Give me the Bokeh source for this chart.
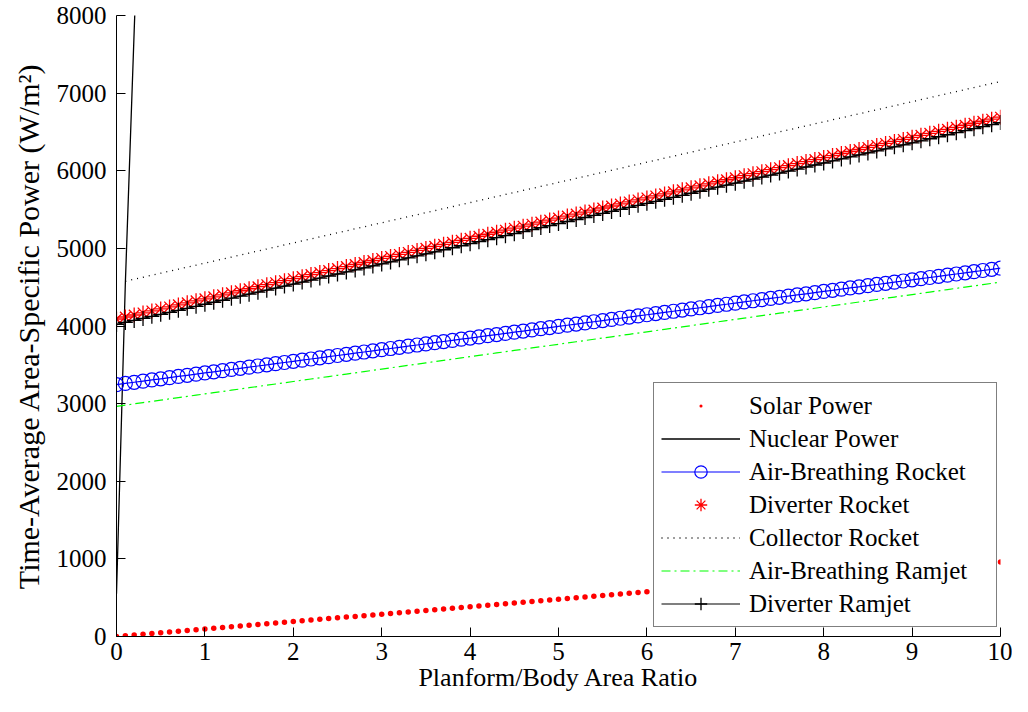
from bokeh.plotting import figure
from bokeh.models import Range1d, Legend, LegendItem, FixedTicker
from bokeh.embed import file_html
from bokeh.resources import INLINE

# Planform/Body area ratio samples
ratio = [0.0, 0.1, 0.2, 0.3, 0.4, 0.5, 0.6, 0.7, 0.8, 0.9,
         1.0, 1.1, 1.2, 1.3, 1.4, 1.5, 1.6, 1.7, 1.8, 1.9,
         2.0, 2.1, 2.2, 2.3, 2.4, 2.5, 2.6, 2.7, 2.8, 2.9,
         3.0, 3.1, 3.2, 3.3, 3.4, 3.5, 3.6, 3.7, 3.8, 3.9,
         4.0, 4.1, 4.2, 4.3, 4.4, 4.5, 4.6, 4.7, 4.8, 4.9,
         5.0, 5.1, 5.2, 5.3, 5.4, 5.5, 5.6, 5.7, 5.8, 5.9,
         6.0, 6.1, 6.2, 6.3, 6.4, 6.5, 6.6, 6.7, 6.8, 6.9,
         7.0, 7.1, 7.2, 7.3, 7.4, 7.5, 7.6, 7.7, 7.8, 7.9,
         8.0, 8.1, 8.2, 8.3, 8.4, 8.5, 8.6, 8.7, 8.8, 8.9,
         9.0, 9.1, 9.2, 9.3, 9.4, 9.5, 9.6, 9.7, 9.8, 9.9,
         10.0]

solar_power = [0, 9.6, 19.2, 28.8, 38.4, 48, 57.6, 67.2, 76.8, 86.4,
               96, 105.6, 115.2, 124.8, 134.4, 144, 153.6, 163.2, 172.8, 182.4,
               192, 201.6, 211.2, 220.8, 230.4, 240, 249.6, 259.2, 268.8, 278.4,
               288, 297.6, 307.2, 316.8, 326.4, 336, 345.6, 355.2, 364.8, 374.4,
               384, 393.6, 403.2, 412.8, 422.4, 432, 441.6, 451.2, 460.8, 470.4,
               480, 489.6, 499.2, 508.8, 518.4, 528, 537.6, 547.2, 556.8, 566.4,
               576, 585.6, 595.2, 604.8, 614.4, 624, 633.6, 643.2, 652.8, 662.4,
               672, 681.6, 691.2, 700.8, 710.4, 720, 729.6, 739.2, 748.8, 758.4,
               768, 777.6, 787.2, 796.8, 806.4, 816, 825.6, 835.2, 844.8, 854.4,
               864, 873.6, 883.2, 892.8, 902.4, 912, 921.6, 931.2, 940.8, 950.4,
               960]

nuclear_ratio = [0.0, 0.1, 0.2, 0.3]
nuclear_power = [550, 4550, 7800, 11000]

air_breathing_rocket = [3245, 3260, 3275, 3290, 3305, 3320, 3335, 3350, 3365, 3380,
                        3395, 3410, 3425, 3440, 3455, 3470, 3485, 3500, 3515, 3530,
                        3545, 3560, 3575, 3590, 3605, 3620, 3635, 3650, 3665, 3680,
                        3695, 3710, 3725, 3740, 3755, 3770, 3785, 3800, 3815, 3830,
                        3845, 3860, 3875, 3890, 3905, 3920, 3935, 3950, 3965, 3980,
                        3995, 4010, 4025, 4040, 4055, 4070, 4085, 4100, 4115, 4130,
                        4145, 4160, 4175, 4190, 4205, 4220, 4235, 4250, 4265, 4280,
                        4295, 4310, 4325, 4340, 4355, 4370, 4385, 4400, 4415, 4430,
                        4445, 4460, 4475, 4490, 4505, 4520, 4535, 4550, 4565, 4580,
                        4595, 4610, 4625, 4640, 4655, 4670, 4685, 4700, 4715, 4730,
                        4745]

diverter_rocket = [4090, 4116, 4142, 4168, 4194, 4220, 4246, 4272, 4298, 4324,
                   4350, 4376, 4402, 4428, 4454, 4480, 4506, 4532, 4558, 4584,
                   4610, 4636, 4662, 4688, 4714, 4740, 4766, 4792, 4818, 4844,
                   4870, 4896, 4922, 4948, 4974, 5000, 5026, 5052, 5078, 5104,
                   5130, 5156, 5182, 5208, 5234, 5260, 5286, 5312, 5338, 5364,
                   5390, 5416, 5442, 5468, 5494, 5520, 5546, 5572, 5598, 5624,
                   5650, 5676, 5702, 5728, 5754, 5780, 5806, 5832, 5858, 5884,
                   5910, 5936, 5962, 5988, 6014, 6040, 6066, 6092, 6118, 6144,
                   6170, 6196, 6222, 6248, 6274, 6300, 6326, 6352, 6378, 6404,
                   6430, 6456, 6482, 6508, 6534, 6560, 6586, 6612, 6638, 6664,
                   6690]

collector_ratio = ratio[1:]
collector_rocket = [4576, 4602, 4628, 4654, 4680, 4706, 4732, 4758, 4784,
                    4810, 4836, 4862, 4888, 4914, 4940, 4966, 4992, 5018, 5044,
                    5070, 5096, 5122, 5148, 5174, 5200, 5226, 5252, 5278, 5304,
                    5330, 5356, 5382, 5408, 5434, 5460, 5486, 5512, 5538, 5564,
                    5590, 5616, 5642, 5668, 5694, 5720, 5746, 5772, 5798, 5824,
                    5850, 5876, 5902, 5928, 5954, 5980, 6006, 6032, 6058, 6084,
                    6110, 6136, 6162, 6188, 6214, 6240, 6266, 6292, 6318, 6344,
                    6370, 6396, 6422, 6448, 6474, 6500, 6526, 6552, 6578, 6604,
                    6630, 6656, 6682, 6708, 6734, 6760, 6786, 6812, 6838, 6864,
                    6890, 6916, 6942, 6968, 6994, 7020, 7046, 7072, 7098, 7124,
                    7150]

air_breathing_ramjet = [2965, 2981, 2997, 3013, 3029, 3045, 3061, 3077, 3093, 3109,
                        3125, 3141, 3157, 3173, 3189, 3205, 3221, 3237, 3253, 3269,
                        3285, 3301, 3317, 3333, 3349, 3365, 3381, 3397, 3413, 3429,
                        3445, 3461, 3477, 3493, 3509, 3525, 3541, 3557, 3573, 3589,
                        3605, 3621, 3637, 3653, 3669, 3685, 3701, 3717, 3733, 3749,
                        3765, 3781, 3797, 3813, 3829, 3845, 3861, 3877, 3893, 3909,
                        3925, 3941, 3957, 3973, 3989, 4005, 4021, 4037, 4053, 4069,
                        4085, 4101, 4117, 4133, 4149, 4165, 4181, 4197, 4213, 4229,
                        4245, 4261, 4277, 4293, 4309, 4325, 4341, 4357, 4373, 4389,
                        4405, 4421, 4437, 4453, 4469, 4485, 4501, 4517, 4533, 4549,
                        4565]

diverter_ramjet = [4020, 4046, 4072, 4098, 4124, 4150, 4176, 4202, 4228, 4254,
                   4280, 4306, 4332, 4358, 4384, 4410, 4436, 4462, 4488, 4514,
                   4540, 4566, 4592, 4618, 4644, 4670, 4696, 4722, 4748, 4774,
                   4800, 4826, 4852, 4878, 4904, 4930, 4956, 4982, 5008, 5034,
                   5060, 5086, 5112, 5138, 5164, 5190, 5216, 5242, 5268, 5294,
                   5320, 5346, 5372, 5398, 5424, 5450, 5476, 5502, 5528, 5554,
                   5580, 5606, 5632, 5658, 5684, 5710, 5736, 5762, 5788, 5814,
                   5840, 5866, 5892, 5918, 5944, 5970, 5996, 6022, 6048, 6074,
                   6100, 6126, 6152, 6178, 6204, 6230, 6256, 6282, 6308, 6334,
                   6360, 6386, 6412, 6438, 6464, 6490, 6516, 6542, 6568, 6594,
                   6620]

x_ticks = [0, 1, 2, 3, 4, 5, 6, 7, 8, 9, 10]
y_ticks = [0, 1000, 2000, 3000, 4000, 5000, 6000, 7000, 8000]

FONT = "Liberation Serif"

p = figure(width=1012, height=696, output_backend="svg", toolbar_location=None,
           x_range=Range1d(0, 10), y_range=Range1d(0, 8000),
           min_border_left=116, min_border_right=12, min_border_top=15,
           min_border_bottom=60)
p.grid.visible = False
p.outline_line_color = None
p.background_fill_color = "white"
p.border_fill_color = "white"

for ax, ticks in ((p.xaxis[0], x_ticks), (p.yaxis[0], y_ticks)):
    ax.ticker = FixedTicker(ticks=ticks)
    ax.minor_tick_line_color = None
    ax.major_tick_in = 9
    ax.major_tick_out = 0
    ax.axis_line_color = "black"
    ax.major_tick_line_color = "black"
    ax.major_label_text_font = FONT
    ax.major_label_text_font_size = "25px"
    ax.major_label_text_color = "black"
    ax.axis_label_text_font = FONT
    ax.axis_label_text_font_style = "normal"
    ax.axis_label_text_color = "black"

p.xaxis[0].axis_label = "Planform/Body Area Ratio"
p.xaxis[0].axis_label_text_font_size = "26px"
p.xaxis[0].major_label_standoff = 6
p.xaxis[0].axis_label_standoff = 0
p.yaxis[0].axis_label = "Time-Average Area-Specific Power (W/m\u00b2)"
p.yaxis[0].axis_label_text_font_size = "30px"
p.yaxis[0].major_label_standoff = 10
p.yaxis[0].axis_label_standoff = 9

r_solar = p.scatter(ratio, solar_power, marker="dot", size=22,
                    line_color="red", fill_color="red")
r_nuc = p.line(nuclear_ratio, nuclear_power, line_color="black", line_width=1.3)
r_abr_l = p.line(ratio, air_breathing_rocket, line_color="blue", line_width=1.2)
r_abr_m = p.scatter(ratio, air_breathing_rocket, marker="circle", size=14,
                    line_color="blue", fill_color=None, line_width=1.2)
r_divr = p.scatter(ratio, diverter_rocket, marker="asterisk", size=15,
                   line_color="red", line_width=1.3)
r_coll = p.line(collector_ratio, collector_rocket, line_color="black",
                line_width=1.3, line_dash="1 5")
r_abj = p.line(ratio, air_breathing_ramjet, line_color="#00ff00",
               line_width=1.2, line_dash="9 4 2 4")
r_divj_l = p.line(ratio, diverter_ramjet, line_color="black", line_width=1.2)
r_divj_m = p.scatter(ratio, diverter_ramjet, marker="cross", size=15,
                     line_color="black", line_width=1.3)

items = [
    LegendItem(label="Solar Power", renderers=[r_solar]),
    LegendItem(label="Nuclear Power", renderers=[r_nuc]),
    LegendItem(label="Air-Breathing Rocket", renderers=[r_abr_l, r_abr_m]),
    LegendItem(label="Diverter Rocket", renderers=[r_divr]),
    LegendItem(label="Collector Rocket", renderers=[r_coll]),
    LegendItem(label="Air-Breathing Ramjet", renderers=[r_abj]),
    LegendItem(label="Diverter Ramjet", renderers=[r_divj_l, r_divj_m]),
]
legend = Legend(items=items, location=(537, 9),
                label_text_font=FONT, label_text_font_size="25px",
                label_text_color="black",
                glyph_width=79, glyph_height=31, label_height=31,
                label_width=240, label_standoff=9, spacing=2, padding=7,
                margin=0, border_line_color="black", border_line_width=1,
                background_fill_color="white", background_fill_alpha=1.0)
p.add_layout(legend)

open("out.html", "w").write(file_html(p, INLINE))
